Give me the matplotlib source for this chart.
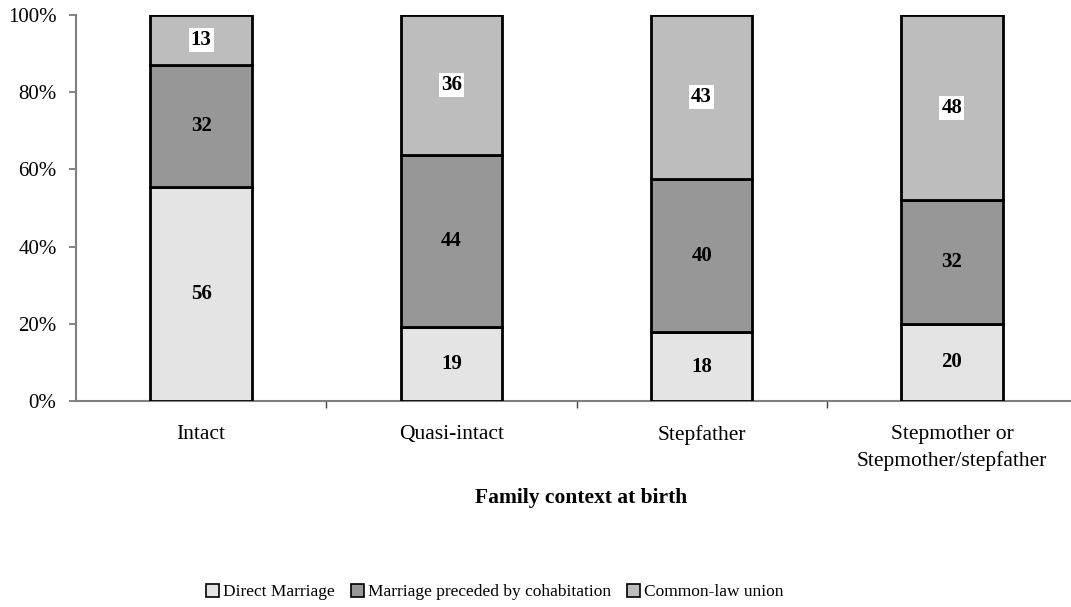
import numpy as np
import matplotlib
matplotlib.use("Agg")
import matplotlib.pyplot as plt
from matplotlib.patches import Patch

plt.rcParams["font.family"] = ["Liberation Serif", "DejaVu Serif"]

# Data (percent of each family context)
categories = ["Intact", "Quasi-intact", "Stepfather", "Stepmother or\nStepmother/stepfather"]
series_names = ["Direct Marriage", "Marriage preceded by cohabitation", "Common-law union"]
direct = [56, 19, 18, 20]
cohab = [32, 44, 40, 32]
common = [13, 36, 43, 48]
colors = ["#e4e4e4", "#979797", "#bdbdbd"]

values = np.array([direct, cohab, common], dtype=float)
shares = values / values.sum(axis=0)          # 100% stacked

fig = plt.figure(figsize=(10.71, 6.07), dpi=100)
ax = fig.add_axes([0.0710, 0.3394, 0.9346, 0.6359])

x = np.arange(len(categories))
width = 0.405
bottom = np.zeros(len(categories))
for i, (name, col) in enumerate(zip(series_names, colors)):
    ax.bar(x, shares[i], width, bottom=bottom, color=col, edgecolor="black",
           linewidth=2, label=name, zorder=3)
    for j in range(len(categories)):
        # the top segment's labels sit on a white box
        box = dict(facecolor="white", edgecolor="none", pad=1.5) if i == 2 else None
        ax.text(x[j], bottom[j] + shares[i][j] / 2, f"{int(values[i][j])}",
                ha="center", va="center", fontsize=15, fontweight="bold",
                bbox=box, zorder=4)
    bottom += shares[i]

ax.set_xlim(-0.5, len(categories) - 0.5)
ax.set_ylim(0, 1)
ax.set_yticks(np.linspace(0, 1, 6))
ax.set_yticklabels([f"{int(v)}%" for v in np.linspace(0, 100, 6)], fontsize=15)

ax.set_xticks(x)
ax.set_xticklabels(categories, fontsize=15.5, linespacing=1.5)
ax.tick_params(axis="x", which="major", length=0, pad=17)
ax.set_xticks(np.arange(len(categories) - 1) + 0.5, minor=True)
ax.tick_params(axis="x", which="minor", length=5, width=1, color="#404040", direction="out")
ax.tick_params(axis="y", length=5, width=1.2, color="#707070", direction="out", pad=9)

for side in ["top", "right"]:
    ax.spines[side].set_visible(False)
for side in ["left", "bottom"]:
    ax.spines[side].set_color("#808080")
    ax.spines[side].set_linewidth(1.5)

fig.text(581 / 1071, 1 - 498 / 607, "Family context at birth", ha="center", va="center",
         fontsize=15.5, fontweight="bold")

handles = [Patch(facecolor=c, edgecolor="black", linewidth=1.2) for c in colors]
fig.legend(handles, series_names, loc="center", bbox_to_anchor=(0.462, 1 - 592 / 607),
           ncol=3, frameon=False, fontsize=12.5, handlelength=0.75, handleheight=0.75,
           handletextpad=0.25, columnspacing=0.9)

fig.savefig("out.png", dpi=100)
